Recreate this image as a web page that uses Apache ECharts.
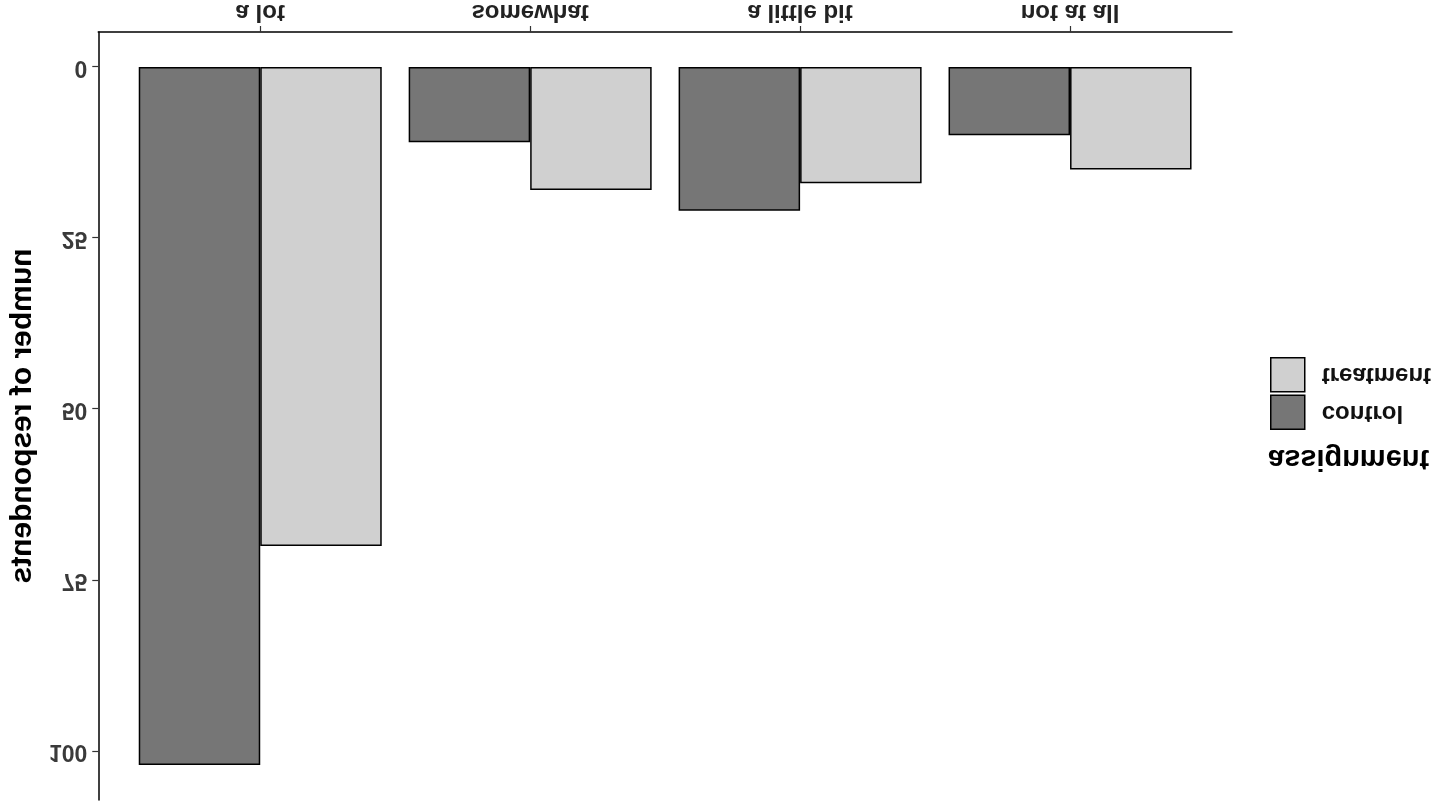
<!DOCTYPE html>
<html>
<head>
<meta charset="utf-8">
<script src="https://cdn.jsdelivr.net/npm/echarts@6/dist/echarts.min.js"></script>
<style>
  html, body { margin: 0; padding: 0; background: #fff; }
  /* the reference is drawn upside down (mirrored vertically) */
  #chart { width: 1446px; height: 807px; transform: scaleY(-1); }
</style>
</head>
<body>
<div id="chart"></div>
<script>
const categories = ['a lot', 'somewhat', 'a little bit', 'not at all'];
const controlValues = [102, 11, 21, 10];
const treatmentValues = [70, 18, 17, 15];
const yTicks = [0, 25, 50, 75, 100];
const seriesNames = ['control', 'treatment'];
const yAxisTitle = 'number of respondents';
const legendTitle = 'assignment';

const FONT = '"Liberation Sans", Arial, "DejaVu Sans", sans-serif';
const xPositions = categories.map((c, i) => i + 1);

const chart = echarts.init(document.getElementById('chart'), null, { renderer: 'canvas' });
chart.setOption({
  backgroundColor: '#ffffff',
  animation: false,
  textStyle: { fontFamily: FONT },
  grid: { left: 98, right: 214, top: 7, bottom: 30, containLabel: false },
  xAxis: {
    type: 'value',
    min: 0.4,
    max: 4.6,
    splitLine: { show: false },
    axisLine: { show: true, onZero: false, lineStyle: { color: '#000', width: 1.5 } },
    axisTick: { show: true, length: 6, customValues: xPositions, lineStyle: { color: '#333', width: 1.2 } },
    axisLabel: {
      customValues: xPositions,
      formatter: v => categories[Math.round(v) - 1] || '',
      margin: 8,
      fontSize: 24,
      fontWeight: 'bold',
      color: '#222',
      fontFamily: FONT
    }
  },
  yAxis: {
    type: 'value',
    min: -5.1,
    max: 107.1,
    splitLine: { show: false },
    axisLine: { show: true, onZero: false, lineStyle: { color: '#000', width: 1.5 } },
    axisTick: { show: true, length: 6, customValues: yTicks, lineStyle: { color: '#333', width: 1.2 } },
    axisLabel: {
      customValues: yTicks,
      margin: 11,
      fontSize: 23,
      fontWeight: 'bold',
      color: '#3a3a3a',
      fontFamily: FONT
    },
    name: yAxisTitle,
    nameLocation: 'middle',
    nameGap: 46,
    nameRotate: 90,
    nameTextStyle: { fontSize: 30, fontWeight: 'bold', color: '#000', fontFamily: FONT }
  },
  legend: {
    data: seriesNames,
    orient: 'vertical',
    left: 1270,
    top: 377,
    itemWidth: 34,
    itemHeight: 34,
    itemGap: 2,
    icon: 'rect',
    padding: 0,
    itemStyle: { borderColor: '#000', borderWidth: 1.5 },
    textStyle: { fontSize: 24, fontWeight: 'bold', color: '#111', fontFamily: FONT, padding: [0, 0, 0, 12] }
  },
  graphic: [{
    type: 'text',
    left: 1268,
    top: 334,
    style: { text: legendTitle, font: 'bold 29px ' + FONT, fill: '#000' }
  }],
  series: [
    {
      name: seriesNames[0],
      type: 'bar',
      data: controlValues.map((v, i) => [xPositions[i], v]),
      barWidth: 121.5,
      barGap: '0%',
      itemStyle: { color: '#767676', borderColor: '#000', borderWidth: 1.5 }
    },
    {
      name: seriesNames[1],
      type: 'bar',
      data: treatmentValues.map((v, i) => [xPositions[i], v]),
      barWidth: 121.5,
      barGap: '0%',
      itemStyle: { color: '#d0d0d0', borderColor: '#000', borderWidth: 1.5 }
    }
  ]
});
</script>
</body>
</html>
